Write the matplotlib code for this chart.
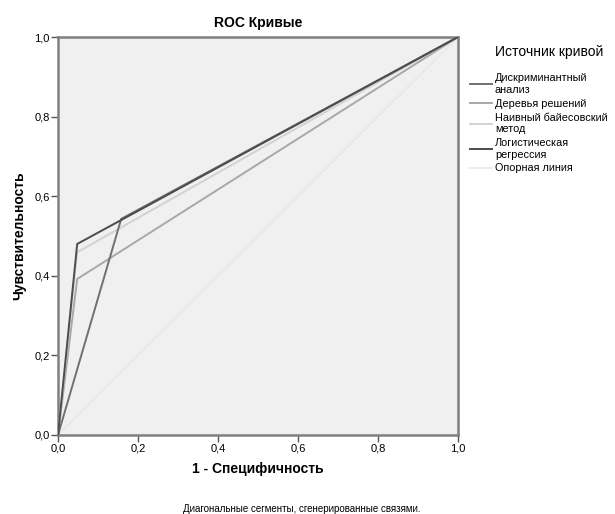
import matplotlib
matplotlib.use("Agg")
import matplotlib.pyplot as plt

plt.rcParams["font.family"] = ["Liberation Sans", "DejaVu Sans"]

# ROC-кривые (1 - специфичность, чувствительность)
fpr_disc = [0.0, 0.158, 1.0]
tpr_disc = [0.0, 0.543, 1.0]
fpr_tree = [0.0, 0.048, 1.0]
tpr_tree = [0.0, 0.392, 1.0]
fpr_nb = [0.0, 0.048, 1.0]
tpr_nb = [0.0, 0.459, 1.0]
fpr_log = [0.0, 0.048, 1.0]
tpr_log = [0.0, 0.480, 1.0]
ref_line = [0.0, 1.0]

ticks = [0.0, 0.2, 0.4, 0.6, 0.8, 1.0]
tick_labels = ["0,0", "0,2", "0,4", "0,6", "0,8", "1,0"]

fig = plt.figure(figsize=(6.15, 5.14), dpi=100)
ax = fig.add_axes([0.0943, 0.1537, 0.6504, 0.7743])
ax.set_facecolor("#f0f0f0")

ax.plot(ref_line, ref_line, color="#e8e8e8", lw=1.2, label="Опорная линия", zorder=2)
ax.plot(fpr_tree, tpr_tree, color="#a8a8a8", lw=1.4, label="Деревья решений", zorder=3)
ax.plot(fpr_nb, tpr_nb, color="#d2d2d2", lw=1.4, label="Наивный байесовский\nметод", zorder=3)
ax.plot(fpr_disc, tpr_disc, color="#707070", lw=1.4, label="Дискриминантный\nанализ", zorder=4)
ax.plot(fpr_log, tpr_log, color="#4c4c4c", lw=1.4, label="Логистическая\nрегрессия", zorder=5)

ax.set_xlim(0, 1)
ax.set_ylim(0, 1)
ax.set_xticks(ticks)
ax.set_xticklabels(tick_labels)
ax.set_yticks(ticks)
ax.set_yticklabels(tick_labels)
ax.tick_params(direction="out", length=5, width=1, color="#555555", labelsize=8, pad=1)
for s in ax.spines.values():
    s.set_color("#808080")
    s.set_linewidth(1.8)

ax.set_title("ROC Кривые", fontsize=10, fontweight="bold", pad=7)
ax.set_xlabel("1 - Специфичность", fontsize=10, fontweight="bold", labelpad=6)
ax.set_ylabel("Чувствительность", fontsize=10, fontweight="bold", labelpad=6)

handles, labels = ax.get_legend_handles_labels()
order = ["Дискриминантный\nанализ", "Деревья решений", "Наивный байесовский\nметод",
         "Логистическая\nрегрессия", "Опорная линия"]
hmap = dict(zip(labels, handles))
leg = fig.legend([hmap[o] for o in order], order, loc="upper left",
                 bbox_to_anchor=(0.757, 0.92), frameon=False, fontsize=7.8,
                 title="Источник кривой", title_fontsize=10,
                 handlelength=2.0, handletextpad=0.3, labelspacing=0.35,
                 borderaxespad=0)
leg._legend_box.align = "left"
leg._legend_box.sep = 10
leg.get_title().set_position((25, 0))

fig.text(0.49, 0.0, "Диагональные сегменты, сгенерированные связями.",
         ha="center", va="bottom", fontsize=7)

fig.savefig("out.png", dpi=100)
